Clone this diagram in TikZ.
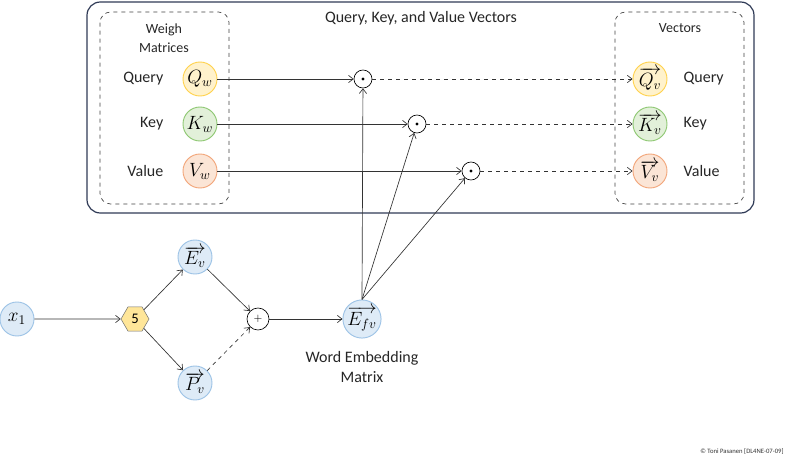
\documentclass[tikz,border=0pt]{standalone}
\usepackage{fontspec}
\setmainfont{Carlito}
\usetikzlibrary{arrows.meta,shapes.geometric}
\definecolor{navy}{HTML}{2F3A56}
\definecolor{fillq}{HTML}{FFF2CC}
\definecolor{ringq}{HTML}{FFD24D}
\definecolor{fillk}{HTML}{E2F0D9}
\definecolor{ringk}{HTML}{8FC873}
\definecolor{fillv}{HTML}{FBE5D6}
\definecolor{ringv}{HTML}{F2A67A}
\definecolor{fillb}{HTML}{DEEBF7}
\definecolor{ringb}{HTML}{9DC3E6}
\definecolor{hexfill}{HTML}{FFE699}

\begin{document}
\begin{tikzpicture}[
    x=0.75pt,y=-0.75pt,
    lbl/.style={font=\fontsize{12}{14.5}\selectfont,text=black!85},
    hdr/.style={font=\fontsize{10.5}{14}\selectfont,align=center,text=black!85},
    vec/.style={circle,draw,line width=0.7pt,minimum size=25.5pt,inner sep=0pt,font=\fontsize{14}{16}\selectfont},
    op/.style={circle,draw,line width=0.5pt,inner sep=0pt,fill=white},
    arr/.style={-{Straight Barb[length=3.5pt,width=5.5pt]},line width=0.5pt,black!80},
    darr/.style={arr,dashed}
]
\useasboundingbox (0,0) rectangle (797,464);

% Frames
\draw[navy,line width=0.9pt,rounded corners=10pt] (87,2) rectangle (754,213);
\draw[dashed,black!75,line width=0.5pt,rounded corners=8pt] (100,12) rectangle (229,204);
\draw[dashed,black!75,line width=0.5pt,rounded corners=8pt] (615,12) rectangle (744,204);
\node[lbl] (title) at (421,18) {Query, Key, and Value Vectors};
\node[hdr] (wmat) at (164,38) {Weigh\\Matrices};
\node[hdr] (vecs) at (680,28) {Vectors};

% Embedding pipeline
\node[vec,fill=fillb,draw=ringb] (x1) at (17,319) {$x_1$};
\node[regular polygon,regular polygon sides=6,minimum size=21pt,inner sep=0pt,
      draw=black!55,fill=hexfill,font=\fontsize{11}{13}\selectfont] (pos) at (135,319) {5};
\node[vec,fill=fillb,draw=ringb] (ev) at (195,257) {$\overrightarrow{E_v}$};
\node[vec,fill=fillb,draw=ringb] (pv) at (195,383) {$\overrightarrow{P_v}$};
\node[op,minimum size=16.5pt,font=\footnotesize] (plus) at (258,319) {$+$};
\node[vec,fill=fillb,draw=ringb] (efv) at (362,319) {$\overrightarrow{E_{fv}}$};
\node[lbl,align=center] (wem) at (362,367) {Word Embedding\\Matrix};

\draw[arr] (x1) -- (pos);
\draw[arr] (pos) -- (ev);
\draw[arr] (pos) -- (pv);
\draw[arr] (ev) -- (plus);
\draw[darr] (pv) -- (plus);
\draw[arr] (plus) -- (efv);

% Query, key and value rows
\foreach \n/\l/\t/\y/\x in {q/Q/Query/79/363, k/K/Key/124/417, v/V/Value/171/471} {
    \node[lbl,anchor=east] (lw\n) at (168,\y) {\t};
    \node[vec,fill=fill\n,draw=ring\n] (w\n) at (200,\y) {$\l_w$};
    \node[op,minimum size=13.5pt] (d\n) at (\x,\y) {};
    \fill (d\n) circle (1.3pt);
    \node[vec,fill=fill\n,draw=ring\n] (v\n) at (650,\y) {$\overrightarrow{\l_v}$};
    \node[lbl,anchor=west] (lv\n) at (679,\y) {\t};
    \draw[arr] (w\n) -- (d\n);
    \draw[darr] (d\n) -- (v\n);
    \draw[arr] (efv.north) -- (d\n);
}

\node[font=\fontsize{5}{6}\selectfont,text=black!80] (copy) at (742,452) {© Toni Pasanen [DL4NE-07-09]};
\end{tikzpicture}
\end{document}
